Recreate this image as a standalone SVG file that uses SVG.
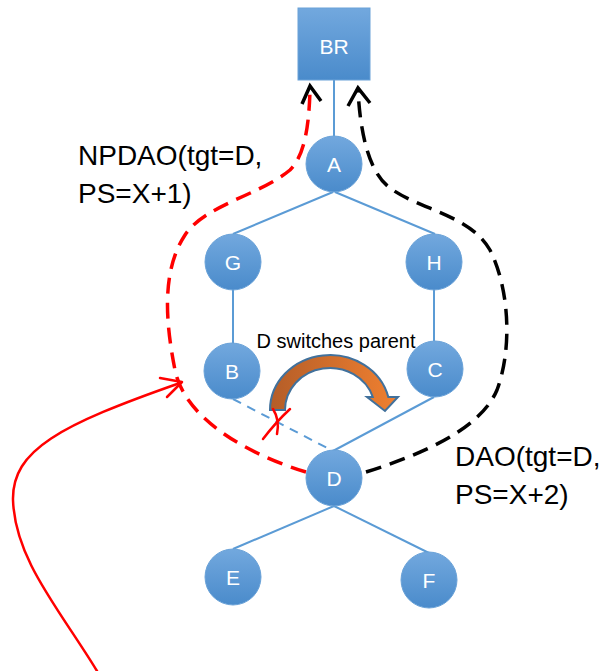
<svg xmlns="http://www.w3.org/2000/svg" width="604" height="671" viewBox="0 0 604 671">
<defs>
<linearGradient id="nodeGrad" x1="0" y1="0" x2="0" y2="1">
<stop offset="0" stop-color="#72a8de"/>
<stop offset="1" stop-color="#4a8bcb"/>
</linearGradient>
<linearGradient id="orangeGrad" x1="0" y1="0" x2="1" y2="0">
<stop offset="0" stop-color="#b45d28"/>
<stop offset="1" stop-color="#f08030"/>
</linearGradient>
<style>
.edge{stroke:#5b9bd5;stroke-width:2;fill:none}
.edge-dash{stroke:#5b9bd5;stroke-width:2;fill:none;stroke-dasharray:9 7}
.node{fill:url(#nodeGrad);stroke:#6aa2d8;stroke-width:1}
.nlabel{font-family:"Liberation Sans",Arial,sans-serif;font-size:21px;fill:#ffffff;text-anchor:middle}
.label{font-family:"Liberation Sans",Arial,sans-serif;font-size:28px;fill:#000000}
.red-dash{stroke:#ff0000;stroke-width:3.5;fill:none;stroke-dasharray:16 9}
.black-dash{stroke:#000000;stroke-width:3.5;fill:none;stroke-dasharray:16 9}
.red{stroke:#ff0000;stroke-width:2.5;fill:none;stroke-linecap:round;stroke-linejoin:round}
.black{stroke:#000000;stroke-width:3.5;fill:none;stroke-linejoin:miter}
</style>
</defs>
<rect width="604" height="671" fill="#ffffff"/>
<g id="connectors">
<line class="edge" x1="334" y1="80" x2="334" y2="136"/>
<line class="edge" x1="333" y1="192" x2="233" y2="234"/>
<line class="edge" x1="335" y1="192" x2="435" y2="234"/>
<line class="edge" x1="233" y1="289" x2="233" y2="345"/>
<line class="edge" x1="434" y1="289" x2="434" y2="341"/>
<line class="edge" x1="434" y1="397" x2="333" y2="451"/>
<line class="edge-dash" x1="233" y1="399" x2="333" y2="451"/>
<line class="edge" x1="334" y1="506" x2="233" y2="549"/>
<line class="edge" x1="334" y1="506" x2="429" y2="553"/>
<path class="red-dash" d="M306,472 C250,455 185,420 175,370 C165,320 162,270 185,235 C205,205 260,195 290,170 C305,155 309,125 310,90"/>
<polyline class="black" stroke="#ff0000" points="302,104 310,86 321,101"/>
<path class="black-dash" d="M366,472 C420,455 480,430 497,390 C512,350 510,290 490,250 C470,215 420,210 390,188 C368,172 360,130 358,90"/>
<polyline class="black" points="348,106 358,88 370,103"/>
<path class="red" d="M97,671 C60,610 15,560 13,500 C12,450 60,425 180,383"/>
<polyline class="red" points="160,378 182,382 167,397"/>
</g>
<g id="BR">
<rect x="298" y="8" width="72" height="72" fill="url(#nodeGrad)" stroke="#6aa2d8" stroke-width="1"/>
<text class="nlabel" x="334" y="54" font-size="23">BR</text>
</g>
<g id="A"><circle class="node" cx="334" cy="164" r="28"/><text class="nlabel" x="334" y="172">A</text></g>
<g id="G"><circle class="node" cx="233" cy="262" r="28"/><text class="nlabel" x="233" y="270">G</text></g>
<g id="H"><circle class="node" cx="434" cy="262" r="28"/><text class="nlabel" x="434" y="270">H</text></g>
<g id="B"><circle class="node" cx="232" cy="371" r="28"/><text class="nlabel" x="232" y="379">B</text></g>
<g id="C"><circle class="node" cx="435" cy="369" r="28"/><text class="nlabel" x="435" y="377">C</text></g>
<g id="D"><circle class="node" cx="334" cy="478" r="28"/><text class="nlabel" x="334" y="486">D</text></g>
<g id="E"><circle class="node" cx="233" cy="577" r="28"/><text class="nlabel" x="233" y="585">E</text></g>
<g id="F"><circle class="node" cx="429" cy="580" r="28"/><text class="nlabel" x="429" y="588">F</text></g>
<g id="switch-arrow">
<path d="M270,410 A60,55 0 0 1 388.3,397 L398,397 L385,411 L367,397 L372.8,397 A45,42 0 0 0 285,410 Z" fill="url(#orangeGrad)" stroke="#41719c" stroke-width="2" stroke-linejoin="miter"/>
<path d="M263,439 Q276,422 290,409" class="red" stroke-width="3"/>
<path d="M273,409 Q280,420 277,434" class="red" stroke-width="3"/>
</g>
<g id="labels">
<text x="336" y="348" text-anchor="middle" font-family="Liberation Sans, Arial, sans-serif" font-size="20" fill="#000">D switches parent</text>
<text class="label" x="78" y="165">NPDAO(tgt=D,</text>
<text class="label" x="78" y="203">PS=X+1)</text>
<text class="label" x="455" y="466">DAO(tgt=D,</text>
<text class="label" x="455" y="504">PS=X+2)</text>
</g>
</svg>
